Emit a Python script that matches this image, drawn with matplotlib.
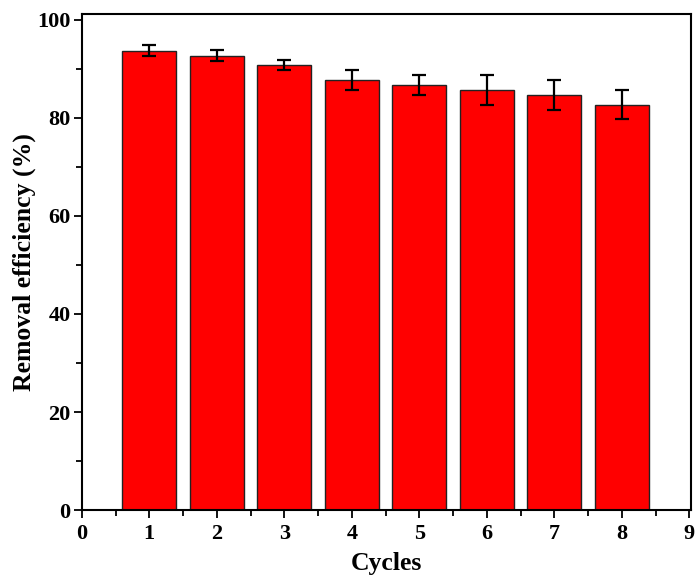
import numpy as np
import matplotlib
matplotlib.use("Agg")
import matplotlib.pyplot as plt
from matplotlib.ticker import MultipleLocator

cycles = [1, 2, 3, 4, 5, 6, 7, 8]
efficiency = [93.7, 92.7, 90.7, 87.7, 86.7, 85.7, 84.7, 82.7]
errors = [1.1, 1.1, 1.0, 2.0, 2.0, 3.0, 3.0, 3.0]

plt.rcParams['font.family'] = ['Liberation Serif', 'DejaVu Serif']
plt.rcParams['font.weight'] = 'bold'

fig = plt.figure(figsize=(6.99, 5.79), dpi=100)
ax = fig.add_axes([0.117, 0.119, 0.871, 0.857])

ax.bar(cycles, efficiency, width=0.8, color='#ff0000', edgecolor='#222222', linewidth=1.0,
       yerr=errors, error_kw=dict(ecolor='black', elinewidth=1.6, capsize=5, capthick=1.6))

ax.set_xlim(0, 9.02)
ax.set_ylim(0, 101.2)
ax.xaxis.set_major_locator(MultipleLocator(1))
ax.xaxis.set_minor_locator(MultipleLocator(0.5))
ax.yaxis.set_major_locator(MultipleLocator(20))
ax.yaxis.set_minor_locator(MultipleLocator(10))
ax.tick_params(which='both', direction='out', width=1.3, labelsize=16, pad=2)
ax.tick_params(axis='x', which='both', pad=4)
ax.tick_params(which='major', length=6)
ax.tick_params(which='minor', length=4)
for s in ax.spines.values():
    s.set_linewidth(1.5)

ax.set_xlabel('Cycles', fontsize=18.5, fontweight='bold', labelpad=6)
ax.set_ylabel('Removal efficiency (%)', fontsize=18.5, fontweight='bold', labelpad=1)

fig.savefig('out.png', dpi=100)
